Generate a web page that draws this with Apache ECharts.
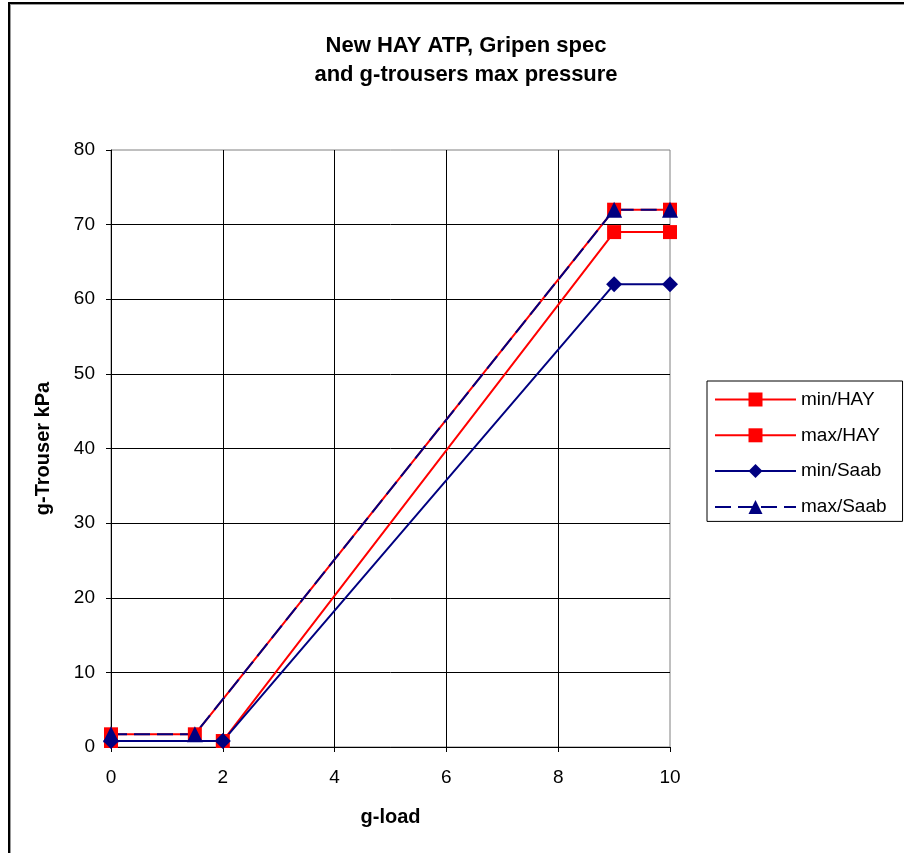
<!DOCTYPE html>
<html>
<head>
<meta charset="utf-8">
<script src="https://cdn.jsdelivr.net/npm/echarts@6/dist/echarts.min.js"></script>
<style>
  html, body { margin: 0; padding: 0; background: #fff; }
  #chart { width: 904px; height: 853px; }
  #frame {
    position: absolute; left: 8px; top: 2px; width: 1000px; height: 1000px;
    border-left: 2px solid #000; border-top: 2px solid #000;
    box-shadow: inset 1px 1px 0 #999; pointer-events: none;
  }
</style>
</head>
<body>
<div id="chart"></div>
<div id="frame"></div>
<script>
// g-load vs g-trouser pressure (kPa)
const minHay = [[0, 0.8], [2, 0.8], [9, 69], [10, 69]]
const maxHay = [[0, 1.7], [1.5, 1.7], [9, 72], [10, 72]]
const minSaab = [[0, 0.8], [2, 0.8], [9, 62], [10, 62]]
const maxSaab = [[0, 1.7], [1.5, 1.7], [9, 72], [10, 72]]

const RED = '#FF0000'
const NAVY = '#000080'
const FONT = '"Liberation Sans", Arial, sans-serif'

const chart = echarts.init(document.getElementById('chart'))

function line(name, data, color, symbol, dashed) {
  return {
    name, data,
    type: 'line',
    symbol,
    symbolSize: symbol === 'rect' ? 14 : 16,
    showAllSymbol: true,
    lineStyle: { color, width: 2, type: dashed ? [16, 7] : 'solid' },
    itemStyle: { color },
    emphasis: { disabled: true },
    animation: false,
  }
}

chart.setOption({
  animation: false,
  title: {
    text: 'New HAY ATP, Gripen spec\nand g-trousers max pressure',
    left: 461, top: 26, textAlign: 'center',
    textStyle: { fontFamily: FONT, fontSize: 22, fontWeight: 'bold', color: '#000', lineHeight: 29 },
  },
  legend: {
    orient: 'vertical',
    left: 707, top: 381,
    padding: [9, 16, 5, 7],
    itemWidth: 81, itemHeight: 17.5, itemGap: 16.8,
    borderColor: '#000', borderWidth: 1,
    backgroundColor: '#fff',
    textStyle: { fontFamily: FONT, fontSize: 19, color: '#000' },
    data: ['min/HAY', 'max/HAY', 'min/Saab', 'max/Saab'],
  },
  grid: {
    left: 111, top: 150, right: 234, bottom: 106,
    show: true, borderColor: '#808080', borderWidth: 1,
  },
  xAxis: {
    type: 'value', min: 0, max: 10, interval: 2,
    name: 'g-load', nameLocation: 'middle', nameGap: 60,
    nameTextStyle: { fontFamily: FONT, fontSize: 20, fontWeight: 'bold', color: '#000' },
    axisLine: { show: true, onZero: false, lineStyle: { color: '#000', width: 1 } },
    axisTick: { show: true, inside: false, length: 5, lineStyle: { color: '#000' } },
    axisLabel: { fontFamily: FONT, fontSize: 19, color: '#000', margin: 21 },
    splitLine: { show: true, showMaxLine: false, lineStyle: { color: '#000', width: 1 } },
  },
  yAxis: {
    type: 'value', min: 0, max: 80, interval: 10,
    name: 'g-Trouser kPa', nameLocation: 'middle', nameGap: 58,
    nameTextStyle: { fontFamily: FONT, fontSize: 20, fontWeight: 'bold', color: '#000' },
    axisLine: { show: true, lineStyle: { color: '#000', width: 1 } },
    axisTick: { show: true, inside: false, length: 5, lineStyle: { color: '#000' } },
    axisLabel: { fontFamily: FONT, fontSize: 19, color: '#000', margin: 16 },
    splitLine: { show: true, showMaxLine: false, lineStyle: { color: '#000', width: 1 } },
  },
  series: [
    line('min/HAY', minHay, RED, 'rect', false),
    line('max/HAY', maxHay, RED, 'rect', false),
    line('min/Saab', minSaab, NAVY, 'diamond', false),
    line('max/Saab', maxSaab, NAVY, 'triangle', true),
  ],
})
</script>
</body>
</html>
